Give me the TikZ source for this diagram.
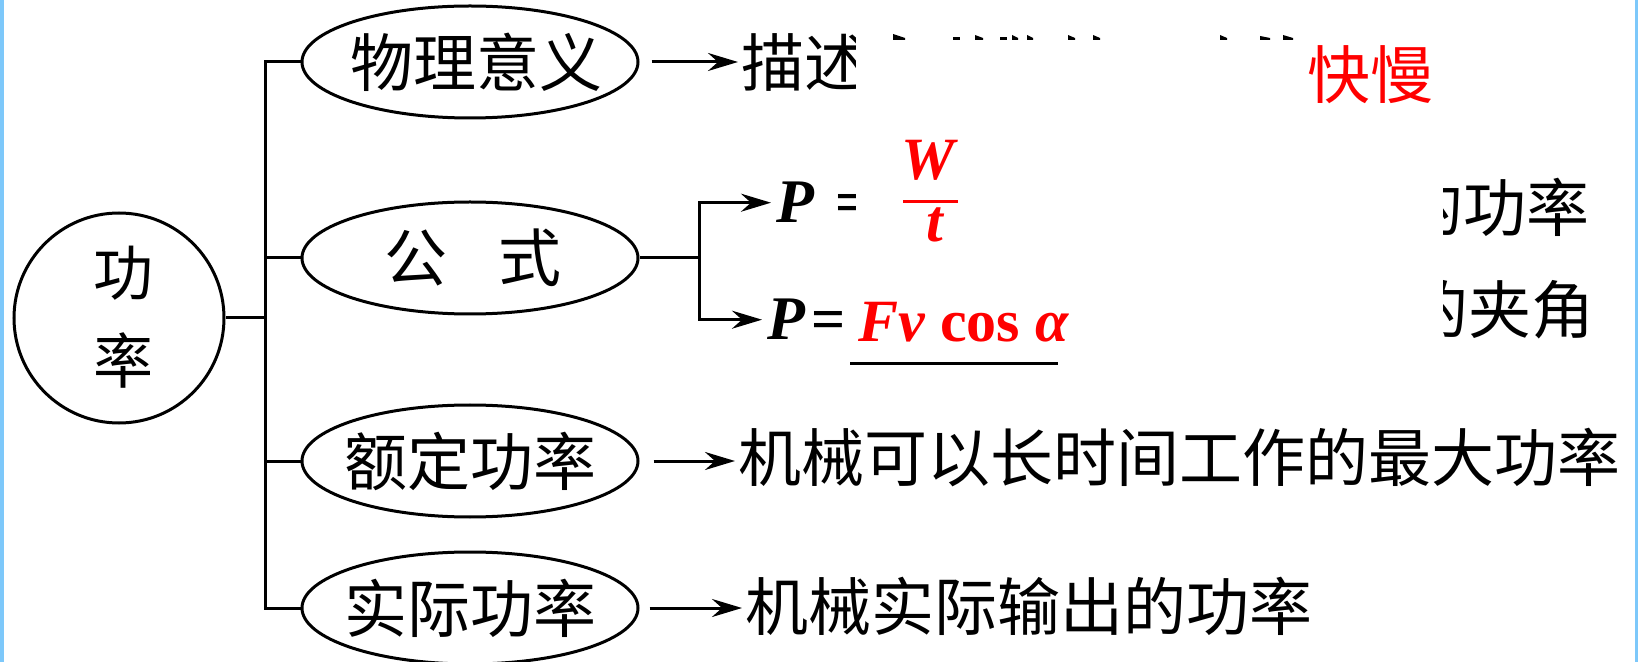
\documentclass[tikz,border=0pt]{standalone}
\usepackage{fontspec}
\setmainfont{Liberation Serif}
\newfontfamily\cjk{Noto Sans CJK SC}
\usetikzlibrary{arrows.meta,shapes.geometric}
\definecolor{edgeblue}{RGB}{125,200,250}
\definecolor{ansred}{RGB}{255,0,0}
\begin{document}
\begin{tikzpicture}[x=0.5pt,y=-0.5pt,
  line width=1.5pt,
  ell/.style={draw, ellipse, minimum width=168pt, minimum height=56pt, inner sep=0pt,
    font=\cjk\fontsize{31.5}{32}\selectfont},
  cjktext/.style={inner sep=1pt, font=\cjk\fontsize{31.5}{32}\selectfont},
  mathtext/.style={inner sep=0pt, font=\fontsize{30}{30}\selectfont},
  arr/.style={-{Stealth[length=15pt,width=9pt,inset=5pt]}},
  sliver/.style={fill=black, draw=none}
]
\useasboundingbox (0,0) rectangle (1638,662);
\fill[white] (0,0) rectangle (1638,662);
\fill[edgeblue] (0,0) rectangle (4,662);
\fill[edgeblue] (1635,0) rectangle (1638,662);

% central circle
\node[draw, circle, minimum size=105pt, inner sep=0pt] (c) at (119,318) {};
\node[inner sep=0pt, font=\cjk\fontsize{30}{30}\selectfont] (c1) at (123,273) {功};
\node[inner sep=0pt, font=\cjk\fontsize{30}{30}\selectfont] (c2) at (123,360) {率};

% ellipses
\node[ell] (e1) at (470,62) {\makebox[0pt]{\hspace{6pt}物理意义}};
\node[ell] (e2) at (470,258) {\makebox[0pt]{\hspace{3pt}公\hspace{0.8em}式}};
\node[ell] (e3) at (470,461) {\makebox[0pt]{额定功率}};
\node[ell] (e4) at (470,608) {\makebox[0pt]{实际功率}};

% trunk
\coordinate (tr) at (265,0);
\draw (c.east) -- (c.east -| tr);
\draw (e1.west) -- (e1.west -| tr) -- (e4.west -| tr) -- (e4.west);
\draw (e2.west) -- (e2.west -| tr);
\draw (e3.west) -- (e3.west -| tr);

% row 1
\begin{scope}
  \clip (700,0) rectangle (855,120);
  \node[cjktext, anchor=west] (t1) at (738,63) {描述};
\end{scope}
\draw[arr] ([xshift=6pt]e1.east) -- (e1.east -| t1.west);
\fill[sliver] (893,34) -- (905,38) -- (905,40) -- (893,40) -- cycle;
\fill[sliver] (953,37) rectangle (960,40);
\fill[sliver] (975,35) -- (983,38) -- (983,40) -- (975,40) -- cycle;
\fill[sliver] (1000,37) rectangle (1007,40);
\fill[sliver] (1012,35) -- (1018,38) -- (1018,40) -- (1012,40) -- cycle;
\fill[sliver] (1027,35) -- (1033,38) -- (1033,40) -- (1027,40) -- cycle;
\fill[sliver] (1068,35) -- (1075,38) -- (1075,40) -- (1068,40) -- cycle;
\fill[sliver] (1093,35) -- (1100,38) -- (1100,40) -- (1093,40) -- cycle;
\fill[sliver] (1220,35) -- (1227,38) -- (1227,40) -- (1220,40) -- cycle;
\fill[sliver] (1260,36) -- (1270,38) -- (1270,40) -- (1260,40) -- cycle;
\fill[sliver] (1283,35) -- (1293,38) -- (1293,40) -- (1283,40) -- cycle;
\node[cjktext, text=ansred] (k) at (1370,75) {快慢};

% row 2 and 3 (formulas)
\coordinate (br) at (699,0);
\draw (e2.east) -- (e2.east -| br);
\node[mathtext, anchor=base west, font=\fontsize{31}{31}\selectfont\bfseries\itshape] (p1) at (775,223) {P};
\node[mathtext, anchor=base west, font=\fontsize{31}{31}\selectfont\bfseries\itshape] (p2) at (766,340) {P};
\draw[arr] (e2.east -| br) |- ([xshift=-2pt]p1.west);
\draw[arr] (e2.east -| br) |- ([xshift=-2pt]p2.west);
\begin{scope}
  \clip (820,150) rectangle (855,250);
  \node[mathtext, anchor=base west, font=\fontsize{30}{30}\selectfont\bfseries] (q1) at (834,223) {=};
\end{scope}
\node[mathtext, anchor=base west, font=\fontsize{30}{30}\selectfont\bfseries] (q2) at (810,340) {=};
\node[mathtext, text=ansred, font=\fontsize{30}{30}\selectfont\bfseries\itshape] (fw) at (928,160) {W};
\node[mathtext, text=ansred, font=\fontsize{30}{30}\selectfont\bfseries\itshape] (ft) at (935,225) {t};
\coordinate (fbl) at (903,202);
\coordinate (fbr) at (958,202);
\draw[ansred] (fbl) -- (fbr);
\node[mathtext, anchor=base west, text=ansred] (fv) at (857,342) {\bfseries\itshape Fv \upshape cos \itshape α};
\coordinate (ul) at (850,364);
\coordinate (ur) at (1058,364);
\draw (ul) -- (ur);
\begin{scope}
  \clip (1443,150) rectangle (1630,380);
  \node[cjktext, anchor=west] (r2) at (1397,207) {的功率};
  \node[cjktext, anchor=west] (r3) at (1402,310) {的夹角};
\end{scope}

% rows 4 and 5
\node[cjktext, anchor=west] (t4) at (735,458) {机械可以长时间工作的最大功率};
\draw[arr] ([xshift=7pt]e3.east) -- (e3.east -| t4.west);
\node[cjktext, anchor=west] (t5) at (742,606) {机械实际输出的功率};
\draw[arr] ([xshift=5pt]e4.east) -- (e4.east -| t5.west);
\end{tikzpicture}
\end{document}
